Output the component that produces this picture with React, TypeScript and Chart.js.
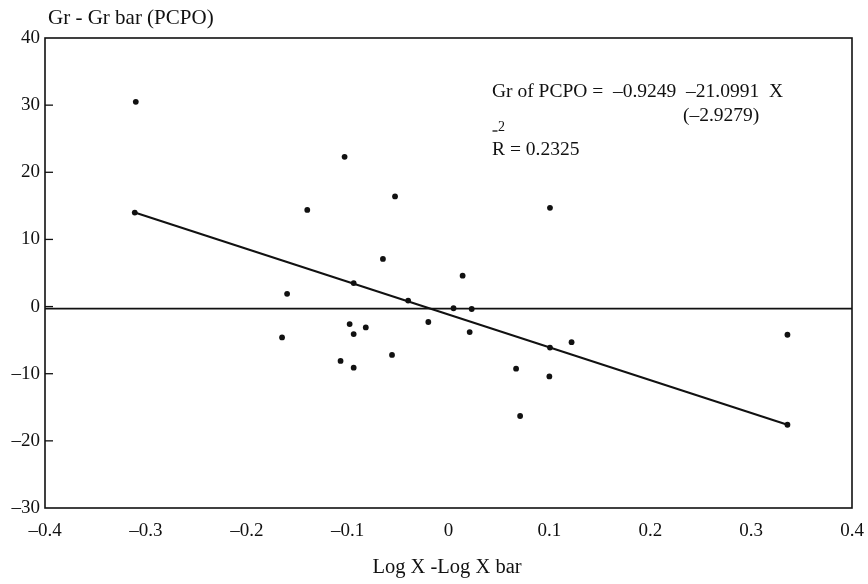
import React, { useEffect, useRef } from "react";
import { Chart, registerables } from "chart.js";
Chart.register(...registerables);

// Observations (Log X - Log X bar, Gr - Gr bar)
const xValues = [
  -0.310, -0.311, -0.103, -0.140, -0.160, -0.053, -0.065, -0.094, -0.098, -0.082,
  -0.094, -0.165, -0.056, -0.107, -0.094, 0.014, -0.040, 0.005, 0.023, 0.1006,
  -0.020, 0.021, 0.1006, 0.122, 0.067, 0.100, 0.071, 0.336, 0.336,
];
const yValues = [
  30.5, 14.0, 22.3, 14.4, 1.9, 16.4, 7.1, 3.5, -2.6, -3.1,
  -4.1, -4.6, -7.2, -8.1, -9.1, 4.6, 0.9, -0.25, -0.36, 14.7,
  -2.3, -3.8, -6.1, -5.3, -9.25, -10.4, -16.3, -4.2, -17.6,
];
// Fitted line endpoints
const fitX = [-0.311, 0.336];
const fitY = [14.0, -17.6];
// Horizontal reference line
const refX = [-0.4, 0.4];
const refY = [-0.3, -0.3];

const xMin = -0.4, xMax = 0.4, xStep = 0.1;
const yMin = -30, yMax = 40, yStep = 10;

const yTitle = "Gr - Gr bar (PCPO)";
const xTitle = "Log X -Log X bar";
const eqLine1 = "Gr of PCPO =  –0.9249  –21.0991  X";
const eqLine2 = "(–2.9279)";
const r2Text = "R = 0.2325";
const r2Sup = "2";

const FONT = "'Liberation Serif', 'DejaVu Serif', serif";
const INK = "#111111";

const fmt = (v: number, d: number) => {
  if (Math.abs(v) < 1e-9) return "0";
  return (v < 0 ? "–" : "") + Math.abs(v).toFixed(d);
};

const overlay = {
  id: "overlay",
  afterDraw(chart: any) {
    const { ctx, chartArea, scales } = chart;
    const { left, right, top, bottom } = chartArea;
    ctx.save();
    ctx.strokeStyle = INK;
    ctx.lineWidth = 1.6;
    ctx.strokeRect(left, top, right - left, bottom - top);
    // inside tick marks on y axis
    ctx.lineWidth = 1.3;
    for (let v = yMin + yStep; v < yMax; v += yStep) {
      const y = scales.y.getPixelForValue(v);
      ctx.beginPath();
      ctx.moveTo(left, y);
      ctx.lineTo(left + 8, y);
      ctx.stroke();
    }
    ctx.fillStyle = INK;
    ctx.textBaseline = "middle";
    ctx.textAlign = "left";
    ctx.font = `21px ${FONT}`;
    ctx.fillText(yTitle, 48, 18);
    ctx.font = `19.5px ${FONT}`;
    ctx.fillText(eqLine1, 492, 92);
    ctx.fillText(eqLine2, 683, 116);
    ctx.fillText(r2Text, 492, 150);
    ctx.font = `20.5px ${FONT}`;
    ctx.textAlign = "center";
    ctx.fillText(xTitle, 447, 568);
    // R-bar squared marks
    ctx.font = `14px ${FONT}`;
    ctx.textAlign = "left";
    ctx.fillText(r2Sup, 498, 127);
    ctx.lineWidth = 1.3;
    ctx.beginPath();
    ctx.moveTo(492.5, 131);
    ctx.lineTo(497.5, 131);
    ctx.stroke();
    ctx.restore();
  },
};

export default function App() {
  const ref = useRef<HTMLCanvasElement>(null);
  useEffect(() => {
    if (!ref.current) return;
    const pts = xValues.map((x, i) => ({ x, y: yValues[i] }));
    const chart = new Chart(ref.current, {
      type: "scatter",
      data: {
        datasets: [
          {
            type: "line",
            data: refX.map((x, i) => ({ x, y: refY[i] })),
            borderColor: INK,
            borderWidth: 1.6,
            pointRadius: 0,
            fill: false,
          } as any,
          {
            type: "line",
            data: fitX.map((x, i) => ({ x, y: fitY[i] })),
            borderColor: INK,
            borderWidth: 2,
            pointRadius: 0,
            fill: false,
          } as any,
          {
            data: pts,
            backgroundColor: INK,
            borderColor: INK,
            pointRadius: 2.9,
            borderWidth: 0,
          },
        ],
      },
      options: {
        animation: false,
        responsive: false,
        layout: { padding: { top: 38, right: 16, left: 0, bottom: 0 } },
        plugins: { legend: { display: false }, tooltip: { enabled: false } },
        scales: {
          x: {
            type: "linear",
            min: xMin,
            max: xMax,
            grid: { display: false, drawTicks: false },
            border: { display: false },
            ticks: {
              stepSize: xStep,
              padding: 12,
              maxRotation: 0,
              color: INK,
              font: { family: FONT, size: 19 },
              callback: (v: any) => fmt(Number(v), 1),
            },
            afterFit: (s: any) => {
              s.height = 76;
              s.paddingLeft = 0;
              s.paddingRight = 0;
            },
          },
          y: {
            type: "linear",
            min: yMin,
            max: yMax,
            grid: { display: false, drawTicks: false },
            border: { display: false },
            ticks: {
              stepSize: yStep,
              padding: 5,
              color: INK,
              font: { family: FONT, size: 19 },
              callback: (v: any) => fmt(Number(v), 0),
            },
            afterFit: (s: any) => {
              s.width = 45;
              s.paddingTop = 0;
              s.paddingBottom = 0;
            },
          },
        },
      },
      plugins: [overlay],
    });
    return () => chart.destroy();
  }, []);
  return (
    <div style={{ position: "fixed", left: 0, top: 0, width: 868, height: 584, background: "#fff" }}>
      <canvas ref={ref} width={868} height={584} style={{ width: 868, height: 584 }} />
    </div>
  );
}
